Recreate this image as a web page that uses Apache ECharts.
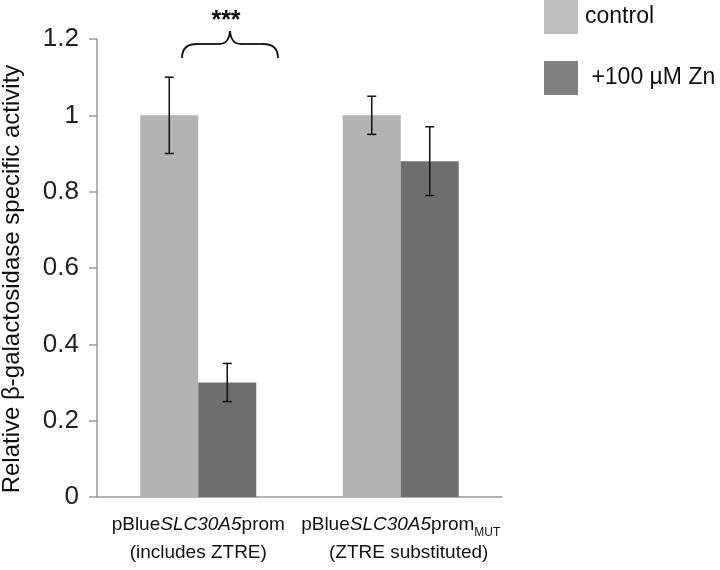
<!DOCTYPE html>
<html>
<head>
<meta charset="utf-8">
<script src="https://cdn.jsdelivr.net/npm/echarts@6/dist/echarts.min.js"></script>
<style>
  html, body { margin: 0; padding: 0; background: #fff; }
  #chart { width: 720px; height: 570px; }
</style>
</head>
<body>
<div id="chart"></div>
<script>
const CATEGORIES = ["wt", "mut"];
const CONTROL = [1.0, 1.0];
const ZINC = [0.30, 0.88];
const CONTROL_ERR = [0.10, 0.05];
const ZINC_ERR = [0.05, 0.09];
const Y_TICKS = [0, 0.2, 0.4, 0.6, 0.8, 1, 1.2];

const LIGHT = "#b3b3b3";
const DARK = "#6e6e6e";
const FONT = "Liberation Sans, Arial, sans-serif";

const chart = echarts.init(document.getElementById("chart"));

// error bars: drawn per bar, offset into the bar's slot
function errorSeries(name, values, errs, offset) {
  return {
    type: "custom",
    name: name + "-err",
    z: 5,
    data: values.map((v, i) => [i, v - errs[i], v + errs[i]]),
    renderItem: (params, api) => {
      const lo = api.coord([api.value(0), api.value(1)]);
      const hi = api.coord([api.value(0), api.value(2)]);
      const x = lo[0] + offset;
      const cap = 4.5;
      const st = { stroke: "#111", lineWidth: 1.5 };
      return {
        type: "group",
        children: [
          { type: "line", shape: { x1: x, y1: lo[1], x2: x, y2: hi[1] }, style: st },
          { type: "line", shape: { x1: x - cap, y1: lo[1], x2: x + cap, y2: lo[1] }, style: st },
          { type: "line", shape: { x1: x - cap, y1: hi[1], x2: x + cap, y2: hi[1] }, style: st }
        ]
      };
    }
  };
}

const catLabels = {
  wt: "pBlue{i|SLC30A5}prom\n(includes ZTRE)",
  mut: "pBlue{i|SLC30A5}prom{sub|MUT}\n   (ZTRE substituted)"
};

// significance brace, pixel-placed annotation
const braceStyle = { stroke: "#111", lineWidth: 1.8, fill: null };
const brace = [
  { type: "bezierCurve", shape: { x1: 182, y1: 58, cpx1: 182, cpy1: 44, x2: 197, y2: 44 }, style: braceStyle },
  { type: "line", shape: { x1: 197, y1: 44, x2: 219, y2: 44 }, style: braceStyle },
  { type: "bezierCurve", shape: { x1: 219, y1: 44, cpx1: 229, cpy1: 44, x2: 230, y2: 31 }, style: braceStyle },
  { type: "bezierCurve", shape: { x1: 230, y1: 31, cpx1: 231, cpy1: 44, x2: 241, y2: 44 }, style: braceStyle },
  { type: "line", shape: { x1: 241, y1: 44, x2: 263, y2: 44 }, style: braceStyle },
  { type: "bezierCurve", shape: { x1: 263, y1: 44, cpx1: 278, cpy1: 44, x2: 278, y2: 58 }, style: braceStyle }
];

chart.setOption({
  animation: false,
  grid: { left: 97, right: 218, top: 39, bottom: 73, outerBoundsMode: "none", containLabel: false },
  legend: {
    orient: "vertical",
    left: 544,
    top: 0,
    padding: 0,
    itemWidth: 34,
    itemHeight: 34,
    itemGap: 27,
    icon: "rect",
    textStyle: { fontFamily: FONT, fontSize: 23, color: "#111", padding: [0, 0, 0, 2] },
    data: [
      { name: "control", itemStyle: { color: "#c0c0c0" } },
      { name: " +100 µM Zn", itemStyle: { color: "#808080" } }
    ]
  },
  xAxis: {
    type: "category",
    data: CATEGORIES,
    axisLine: { lineStyle: { color: "#999", width: 1.5 } },
    axisTick: { length: 11, lineStyle: { color: "#999", width: 1.5 } },
    axisLabel: {
      interval: 0,
      hideOverlap: false,
      margin: 14,
      fontFamily: FONT,
      fontSize: 19,
      color: "#111",
      lineHeight: 28,
      formatter: v => catLabels[v],
      rich: {
        i: { fontFamily: FONT, fontSize: 19, fontStyle: "italic", color: "#111", lineHeight: 28 },
        sub: { fontFamily: FONT, fontSize: 12, color: "#111", lineHeight: 16, verticalAlign: "bottom" }
      }
    }
  },
  yAxis: {
    type: "value",
    min: 0,
    max: 1.2,
    interval: 0.2,
    axisLine: { show: true, lineStyle: { color: "#999", width: 1.5 } },
    axisTick: { show: true, inside: false, length: 8, lineStyle: { color: "#999", width: 1.5 } },
    splitLine: { show: false },
    axisLabel: {
      margin: 18,
      fontFamily: FONT,
      fontSize: 26,
      color: "#222",
      formatter: v => String(Y_TICKS.find(t => Math.abs(t - v) < 1e-9) ?? v)
    }
  },
  series: [
    {
      name: "control",
      type: "bar",
      data: CONTROL,
      barWidth: 58,
      barGap: "0%",
      itemStyle: { color: LIGHT }
    },
    {
      name: " +100 µM Zn",
      type: "bar",
      data: ZINC,
      barWidth: 58,
      barGap: "0%",
      itemStyle: { color: DARK }
    },
    errorSeries("control", CONTROL, CONTROL_ERR, -29),
    errorSeries("zinc", ZINC, ZINC_ERR, 29)
  ],
  graphic: [
    { type: "group", children: brace },
    {
      type: "text",
      x: 226,
      y: 21,
      style: { text: "***", font: "bold 25px " + FONT, fill: "#111", align: "center", verticalAlign: "middle" }
    },
    {
      type: "text",
      x: 12,
      y: 279,
      rotation: Math.PI / 2,
      style: {
        text: "Relative β-galactosidase specific activity",
        font: "24px " + FONT,
        fill: "#111",
        align: "center",
        verticalAlign: "middle"
      }
    }
  ]
});
</script>
</body>
</html>
